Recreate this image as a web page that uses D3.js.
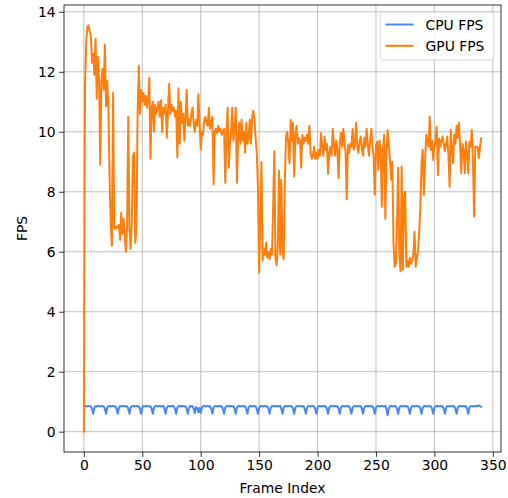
<!DOCTYPE html>
<html><head><meta charset="utf-8">
<script src="https://cdn.jsdelivr.net/npm/d3@7"></script>
<style>html,body{margin:0;padding:0;background:#fff;} text{font-family:"DejaVu Sans",sans-serif;}</style>
</head><body><svg id="c" width="508" height="498"></svg>
<script>
const seriesNames = ["CPU FPS", "GPU FPS"];
const xTicks = [0, 50, 100, 150, 200, 250, 300, 350];
const yTicks = [0, 2, 4, 6, 8, 10, 12, 14];
const gpuFps = [
0,11.5,13.0,13.5,13.55,13.35,13.2,12.3,12.6,11.9,
13.1,11.1,12.5,11.8,8.9,11.7,12.1,11.4,12.9,10.85,
11.7,10.8,8.5,6.9,6.2,11.3,6.8,6.75,6.85,6.8,
6.9,6.4,7.3,6.6,7.1,6.5,6.0,6.9,10.5,6.8,
6.1,7.0,9.2,9.3,6.3,6.8,10.6,12.2,10.6,11.4,
11.0,11.3,10.9,11.2,10.8,11.1,11.8,9.1,10.8,11.0,
10.0,10.9,10.6,10.8,11.0,10.5,11.05,10.0,10.8,10.6,
10.9,9.8,10.7,11.6,10.6,10.9,10.7,10.8,10.5,10.7,
9.15,11.45,9.6,11.0,10.3,10.6,9.7,10.5,11.4,10.2,
10.4,10.2,10.6,10.8,10.3,10.0,10.4,10.2,11.25,10.3,
9.4,10.0,9.9,10.4,10.5,10.3,10.2,10.8,10.1,10.3,
10.5,8.25,10.0,10.1,9.95,10.2,10.0,10.1,9.9,10.0,
10.1,8.3,9.9,10.8,8.8,9.6,10.0,10.8,9.7,10.1,
10.8,8.3,9.8,10.3,9.6,10.4,9.7,10.0,9.3,10.3,
9.6,9.8,10.4,9.6,10.5,10.7,10.4,9.8,9.3,8.1,
5.3,7.0,9.0,5.7,6.1,5.9,6.3,5.8,6.0,5.75,
6.1,5.9,7.5,9.35,5.8,5.55,6.2,8.7,5.9,8.4,
6.0,5.75,8.3,9.8,10.0,9.6,8.95,10.4,9.7,10.3,
8.5,9.9,10.2,9.6,9.8,9.7,8.8,9.9,9.6,9.8,
9.7,9.9,9.6,10.2,9.3,9.1,9.2,9.5,9.1,9.3,
9.1,9.4,9.2,9.96,9.5,9.2,9.84,9.4,9.6,8.6,
9.3,9.5,9.2,10.1,9.6,9.2,9.7,9.4,8.45,9.6,
9.96,9.5,10.1,9.7,9.3,7.75,9.56,9.3,9.6,9.5,
10.1,9.4,9.6,10.3,9.5,9.3,9.7,9.84,9.4,9.2,
9.8,9.5,10.1,9.6,9.2,9.7,10.1,9.5,9.2,7.9,
9.5,9.67,8.73,9.7,9.4,7.5,9.4,9.9,7.1,9.35,
10.05,9.5,9.1,8.4,9.0,6.3,5.5,5.6,7.0,8.8,
5.9,5.35,8.84,5.4,7.8,8.0,5.5,5.7,5.5,5.8,
5.6,5.75,5.9,6.67,5.5,5.8,6.0,6.67,7.5,8.95,
9.4,7.9,9.0,9.9,9.7,9.5,10.5,9.4,9.7,9.06,
9.5,9.73,10.17,8.56,9.78,9.5,9.7,9.84,9.6,9.35,
9.6,9.84,9.2,8.17,10.07,9.4,8.96,9.9,9.6,10.2,
9.8,10.3,9.5,8.62,9.6,9.4,8.62,9.67,9.2,8.62,
9.67,9.5,10.07,9.0,7.17,9.5,9.5,9.5,9.12,9.5,
9.78];
const cpuFps = [
.85,.86,.85,.84,.86,.85,.84,.76,.60,.80,
.85,.84,.86,.85,.84,.86,.85,.84,.76,.60,
.80,.85,.86,.84,.85,.86,.84,.85,.76,.60,
.80,.86,.85,.84,.86,.85,.84,.85,.76,.60,
.80,.85,.86,.84,.85,.86,.84,.85,.76,.60,
.80,.86,.85,.84,.86,.85,.84,.85,.76,.60,
.80,.85,.86,.84,.85,.86,.84,.85,.86,.76,
.60,.80,.85,.86,.84,.85,.86,.84,.76,.60,
.80,.85,.86,.84,.85,.86,.84,.85,.76,.60,
.80,.86,.84,.85,.76,.62,.82,.78,.65,.80,
.62,.80,.85,.86,.84,.85,.86,.84,.85,.76,
.60,.80,.85,.86,.84,.85,.86,.84,.85,.76,
.60,.80,.85,.86,.84,.85,.86,.84,.85,.76,
.60,.80,.85,.86,.84,.85,.86,.84,.85,.76,
.60,.80,.85,.86,.84,.85,.86,.84,.76,.60,
.80,.85,.86,.84,.85,.86,.84,.85,.76,.60,
.80,.85,.86,.84,.85,.86,.84,.85,.86,.76,
.60,.80,.85,.86,.84,.85,.86,.84,.85,.76,
.60,.80,.85,.86,.84,.85,.86,.84,.85,.76,
.60,.80,.85,.86,.84,.85,.86,.84,.76,.60,
.80,.85,.86,.84,.85,.86,.84,.85,.76,.60,
.80,.85,.86,.84,.85,.86,.84,.85,.76,.60,
.80,.85,.86,.84,.85,.86,.84,.85,.76,.60,
.80,.85,.86,.84,.85,.86,.84,.85,.76,.60,
.80,.85,.86,.84,.85,.86,.84,.85,.76,.60,
.80,.85,.86,.84,.85,.86,.84,.85,.86,.74,
.55,.78,.85,.86,.84,.85,.86,.84,.76,.60,
.80,.85,.86,.84,.85,.86,.84,.85,.76,.60,
.80,.85,.86,.84,.85,.86,.84,.85,.76,.60,
.80,.85,.86,.84,.85,.86,.84,.85,.76,.60,
.80,.85,.86,.84,.85,.86,.84,.85,.76,.60,
.80,.85,.86,.84,.85,.86,.84,.85,.76,.60,
.80,.85,.86,.84,.85,.86,.84,.85,.76,.60,
.80,.85,.86,.84,.85,.86,.84,.86,.88,.85,
.83];
const colors = ["#4a88f0", "#ff7f0e"];

const svg = d3.select("#c");
const L = 64, R = 501, T = 5, B = 452;
const n = gpuFps.length - 1;
const ymax = d3.max(gpuFps);
const x = d3.scaleLinear().domain([-0.05*n, 1.05*n]).range([L, R]);
const y = d3.scaleLinear().domain([-0.05*ymax, 1.05*ymax]).range([B, T]);

svg.append("defs").append("clipPath").attr("id","clip")
  .append("rect").attr("x",L).attr("y",T).attr("width",R-L).attr("height",B-T);

// grid
const grid = svg.append("g");
xTicks.forEach(t => grid.append("line").attr("x1",x(t)).attr("x2",x(t)).attr("y1",T).attr("y2",B)
  .attr("stroke","#b0b0b0").attr("stroke-width",0.8));
yTicks.forEach(t => grid.append("line").attr("x1",L).attr("x2",R).attr("y1",y(t)).attr("y2",y(t))
  .attr("stroke","#b0b0b0").attr("stroke-width",0.8));

// lines
const line = d3.line().x((d,i)=>x(i)).y(d=>y(d));
const lg = svg.append("g").attr("clip-path","url(#clip)");
[cpuFps, gpuFps].forEach((s,k) => lg.append("path").datum(s).attr("d",line)
  .attr("fill","none").attr("stroke",colors[k]).attr("stroke-width",2.0)
  .attr("stroke-linejoin","round").attr("stroke-linecap","square"));

// axes
const xa = svg.append("g").attr("transform",`translate(0,${B})`)
  .call(d3.axisBottom(x).tickValues(xTicks).tickSize(4.9).tickPadding(3.5).tickFormat(d3.format("d")));
const ya = svg.append("g").attr("transform",`translate(${L},0)`)
  .call(d3.axisLeft(y).tickValues(yTicks).tickSize(4.9).tickPadding(3.5).tickFormat(d3.format("d")));
[xa,ya].forEach(a=>{
  a.select(".domain").remove();
  a.selectAll("line").attr("stroke","#000").attr("stroke-width",0.8);
  a.selectAll("text").attr("font-size","13.9px").attr("fill","#000").attr("font-family","DejaVu Sans");
});
svg.append("rect").attr("x",L).attr("y",T).attr("width",R-L).attr("height",B-T)
  .attr("fill","none").attr("stroke","#000").attr("stroke-width",0.8);

svg.append("text").attr("x",(L+R)/2).attr("y",493).attr("text-anchor","middle")
  .attr("font-size","13.9px").text("Frame Index");
svg.append("text").attr("transform",`translate(27,${(T+B)/2}) rotate(-90)`).attr("text-anchor","middle")
  .attr("font-size","13.9px").text("FPS");

// legend
const lgX = 380, lgY = 12, lgW = 114, lgH = 48;
const leg = svg.append("g");
leg.append("rect").attr("x",lgX).attr("y",lgY).attr("width",lgW).attr("height",lgH).attr("rx",3)
  .attr("fill","#fff").attr("fill-opacity",0.8).attr("stroke","#cccccc").attr("stroke-width",0.8);
seriesNames.forEach((s,i)=>{
  const yy = 24.5 + i*21.3;
  leg.append("line").attr("x1",385.5).attr("x2",413.5).attr("y1",yy).attr("y2",yy)
    .attr("stroke",colors[i]).attr("stroke-width",2.0);
  leg.append("text").attr("x",425.5).attr("y",yy+5).attr("font-size","13.9px").text(s);
});
</script></body></html>
